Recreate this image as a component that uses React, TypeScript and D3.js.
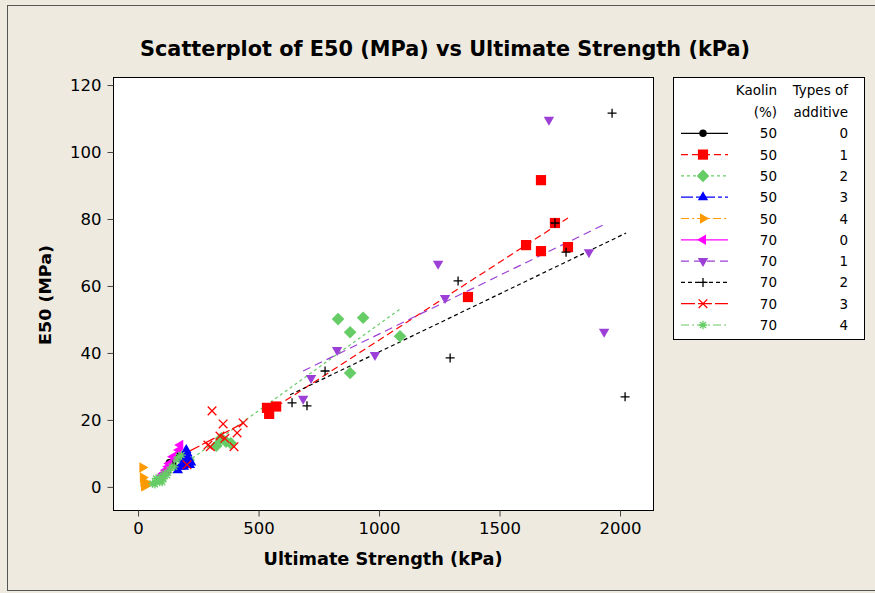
import { useEffect, useRef } from 'react'
import * as d3 from 'd3'

// group keys: kaolin % / additive type
const kaolin = [50, 50, 50, 50, 50, 70, 70, 70, 70, 70]
const additive = [0, 1, 2, 3, 4, 0, 1, 2, 3, 4]
const colors = ['#000000', '#ff0000', '#66cc66', '#0000ff', '#ff9900', '#ff00ff', '#9b3fd6', '#000000', '#ff0000', '#66cc66']
const symbols = ['circle', 'square', 'diamond', 'triUp', 'triRight', 'triLeft', 'triDown', 'plus', 'cross', 'star']
const dashes = ['', '7,4', '3,3', '12,3,4,3', '8,3,2,3', '', '8,5', '4,3', '14,3', '8,3,2,3']

// ultimate strength (kPa), E50 (MPa)
const s50_0 = [[120, 4.5], [130, 7.2], [145, 6.5], [160, 8.8], [175, 9.5]]
const s50_1 = [[535, 23.6], [544, 21.8], [573, 24], [1369, 56.7], [1610, 72.2], [1672, 70.4], [1672, 91.6], [1730, 78.8], [1784, 71.6]]
const s50_2 = [[210, 8], [325, 12.3], [345, 14.5], [365, 13.5], [385, 13], [830, 50.1], [880, 46.2], [880, 34], [934, 50.5], [1087, 45]]
const s50_3 = [[165, 5], [175, 6], [180, 8.5], [185, 7], [190, 6], [195, 9], [200, 11], [200, 6.5], [205, 10], [210, 8], [215, 6.5], [220, 7.3]]
const s50_4 = [[18, 5.8], [20, 2.8], [22, 1.5], [25, 0.2], [28, 0.8], [30, 0.3], [35, 1.2]]
const s70_0 = [[100, 3.5], [105, 4], [115, 5], [125, 6], [130, 7], [145, 9], [170, 11], [175, 12.5]]
const s70_1 = [[685, 26.3], [718, 32.5], [826, 40.9], [983, 39.4], [1245, 66.6], [1274, 56.4], [1705, 109.6], [1871, 70.1], [1934, 46.3]]
const s70_2 = [[639, 25.1], [701, 24.2], [776, 34.6], [1295, 38.5], [1328, 61.5], [1730, 78.8], [1776, 70.1], [1967, 111.6], [2021, 26.9]]
const s70_3 = [[203, 6.6], [290, 12.5], [300, 12], [307, 22.7], [340, 15.2], [353, 18.8], [360, 14.5], [398, 12], [411, 16.1], [436, 19.1]]
const s70_4 = [[60, 1], [70, 0.8], [75, 2.5], [80, 2], [90, 1.5], [95, 3], [100, 1.5], [105, 2.5], [110, 4], [120, 3.5], [130, 5], [140, 6], [150, 6], [160, 8], [170, 9], [180, 9.5]]
const series = [s50_0, s50_1, s50_2, s50_3, s50_4, s70_0, s70_1, s70_2, s70_3, s70_4]

// fitted regression lines: [x0, y0, x1, y1]
const fits = [
  [120, 6.8, 182, 9.6],
  [535, 22.2, 1784, 80.3],
  [205, 7.5, 1087, 53.1],
  [165, 5.5, 220, 9.2],
  [18, 3.2, 35, 1.2],
  [100, 3.5, 175, 12],
  [685, 34.6, 1930, 78.2],
  [631, 27.5, 2025, 75.8],
  [203, 10.3, 436, 19],
  [60, 1.2, 180, 8.8],
]

const xTicks = [0, 500, 1000, 1500, 2000]
const yTicks = [0, 20, 40, 60, 80, 100, 120]

function markerPath(kind: string, r: number) {
  const p = d3.path()
  const tri = (rot: number) => {
    for (let i = 0; i < 3; i++) {
      const a = rot + (i * 2 * Math.PI) / 3
      const px = r * Math.sin(a), py = -r * Math.cos(a)
      i === 0 ? p.moveTo(px, py) : p.lineTo(px, py)
    }
    p.closePath()
  }
  switch (kind) {
    case 'circle': p.arc(0, 0, r * 0.62, 0, 2 * Math.PI); break
    case 'square': p.rect(-r * 0.85, -r * 0.85, r * 1.7, r * 1.7); break
    case 'diamond': p.moveTo(0, -r * 1.05); p.lineTo(r * 1.05, 0); p.lineTo(0, r * 1.05); p.lineTo(-r * 1.05, 0); p.closePath(); break
    case 'triUp': tri(0); break
    case 'triRight': tri(Math.PI / 2); break
    case 'triLeft': tri(-Math.PI / 2); break
    case 'triDown': tri(Math.PI); break
    case 'plus': p.moveTo(-r * 0.75, 0); p.lineTo(r * 0.75, 0); p.moveTo(0, -r * 0.75); p.lineTo(0, r * 0.75); break
    case 'cross': p.moveTo(-r * 0.72, -r * 0.72); p.lineTo(r * 0.72, r * 0.72); p.moveTo(r * 0.72, -r * 0.72); p.lineTo(-r * 0.72, r * 0.72); break
    case 'star':
      for (let i = 0; i < 4; i++) {
        const a = (i * Math.PI) / 4
        p.moveTo(-r * 0.72 * Math.cos(a), -r * 0.72 * Math.sin(a))
        p.lineTo(r * 0.72 * Math.cos(a), r * 0.72 * Math.sin(a))
      }
      break
  }
  return p.toString()
}

const isStroke = (k: string) => k === 'plus' || k === 'cross' || k === 'star'

export default function App() {
  const ref = useRef<SVGSVGElement>(null)

  useEffect(() => {
    if (!ref.current) return
    const svg = d3.select(ref.current)
    svg.selectAll('*').remove()
    const font = 'DejaVu Sans, Verdana, sans-serif'

    svg.append('rect').attr('x', 0).attr('y', 0).attr('width', 875).attr('height', 593).attr('fill', '#eeeae0')
    svg.append('rect').attr('x', 7.5).attr('y', 5.5).attr('width', 900).attr('height', 585)
      .attr('fill', 'none').attr('stroke', '#555').attr('stroke-width', 1)

    const x = d3.scaleLinear().domain([-104, 2141]).range([113, 654])
    const y = d3.scaleLinear().domain([-7.2, 122.4]).range([511, 77])

    svg.append('rect').attr('x', 113.5).attr('y', 77.5).attr('width', 540).attr('height', 433)
      .attr('fill', '#fff').attr('stroke', '#000')

    svg.append('text').attr('x', 445).attr('y', 56).attr('text-anchor', 'middle')
      .attr('font-family', font).attr('font-weight', 'bold').attr('font-size', 21)
      .attr('textLength', 610).attr('lengthAdjust', 'spacingAndGlyphs')
      .text('Scatterplot of E50 (MPa) vs Ultimate Strength (kPa)')

    const xa = svg.append('g').attr('transform', 'translate(0,510.5)')
      .call(d3.axisBottom(x).tickValues(xTicks).tickFormat(d3.format('d')).tickSize(6).tickPadding(6).tickSizeOuter(0))
    const ya = svg.append('g').attr('transform', 'translate(113.5,0)')
      .call(d3.axisLeft(y).tickValues(yTicks).tickFormat(d3.format('d')).tickSize(6).tickPadding(6).tickSizeOuter(0))
    ;[xa, ya].forEach((a) => {
      a.select('.domain').remove()
      a.selectAll('.tick line').attr('stroke', '#444')
      a.selectAll('.tick text').attr('fill', '#000').attr('font-size', 16.5).attr('font-family', font)
    })

    svg.append('text').attr('x', 383).attr('y', 565).attr('text-anchor', 'middle')
      .attr('font-family', font).attr('font-weight', 'bold').attr('font-size', 17)
      .attr('textLength', 239).attr('lengthAdjust', 'spacingAndGlyphs')
      .text('Ultimate Strength (kPa)')
    svg.append('text').attr('transform', 'translate(51,295) rotate(-90)').attr('text-anchor', 'middle')
      .attr('font-family', font).attr('font-weight', 'bold').attr('font-size', 16)
      .attr('textLength', 100).attr('lengthAdjust', 'spacingAndGlyphs')
      .text('E50 (MPa)')

    const plot = svg.append('g')
    // fit lines
    fits.forEach((f, i) => {
      plot.append('line')
        .attr('x1', x(f[0])).attr('y1', y(f[1])).attr('x2', x(f[2])).attr('y2', y(f[3]))
        .attr('stroke', colors[i]).attr('stroke-width', 1.2)
        .attr('stroke-dasharray', dashes[i] || null)
    })
    // points
    series.forEach((pts, i) => {
      const k = symbols[i]
      plot.append('g').selectAll('path').data(pts).join('path')
        .attr('transform', (d) => `translate(${x(d[0])},${y(d[1])})`)
        .attr('d', markerPath(k, 6))
        .attr('fill', isStroke(k) ? 'none' : colors[i])
        .attr('stroke', isStroke(k) ? colors[i] : 'none')
        .attr('stroke-width', 1.3)
    })

    // legend
    const lg = svg.append('g')
    lg.append('rect').attr('x', 673.5).attr('y', 77.5).attr('width', 191).attr('height', 262)
      .attr('fill', '#fff').attr('stroke', '#000')
    const lt = (tx: number, ty: number, s: string) =>
      lg.append('text').attr('x', tx).attr('y', ty).attr('text-anchor', 'end')
        .attr('font-family', font).attr('font-size', 13.5).text(s)
    lt(777, 95, 'Kaolin'); lt(777, 117, '(%)')
    lt(848, 95, 'Types of'); lt(848, 117, 'additive')
    kaolin.forEach((kv, i) => {
      const cy = 133.3 + i * 21.3
      lg.append('line').attr('x1', 681).attr('x2', 728).attr('y1', cy).attr('y2', cy)
        .attr('stroke', colors[i]).attr('stroke-width', 1.2).attr('stroke-dasharray', dashes[i] || null)
      const k = symbols[i]
      lg.append('path').attr('transform', `translate(703,${cy})`).attr('d', markerPath(k, 6))
        .attr('fill', isStroke(k) ? 'none' : colors[i])
        .attr('stroke', isStroke(k) ? colors[i] : 'none').attr('stroke-width', 1.3)
      lt(777, cy + 5, String(kv))
      lt(848, cy + 5, String(additive[i]))
    })
  }, [])

  return <svg ref={ref} width={875} height={593} style={{ position: 'absolute', left: 0, top: 0, display: 'block' }} />
}
